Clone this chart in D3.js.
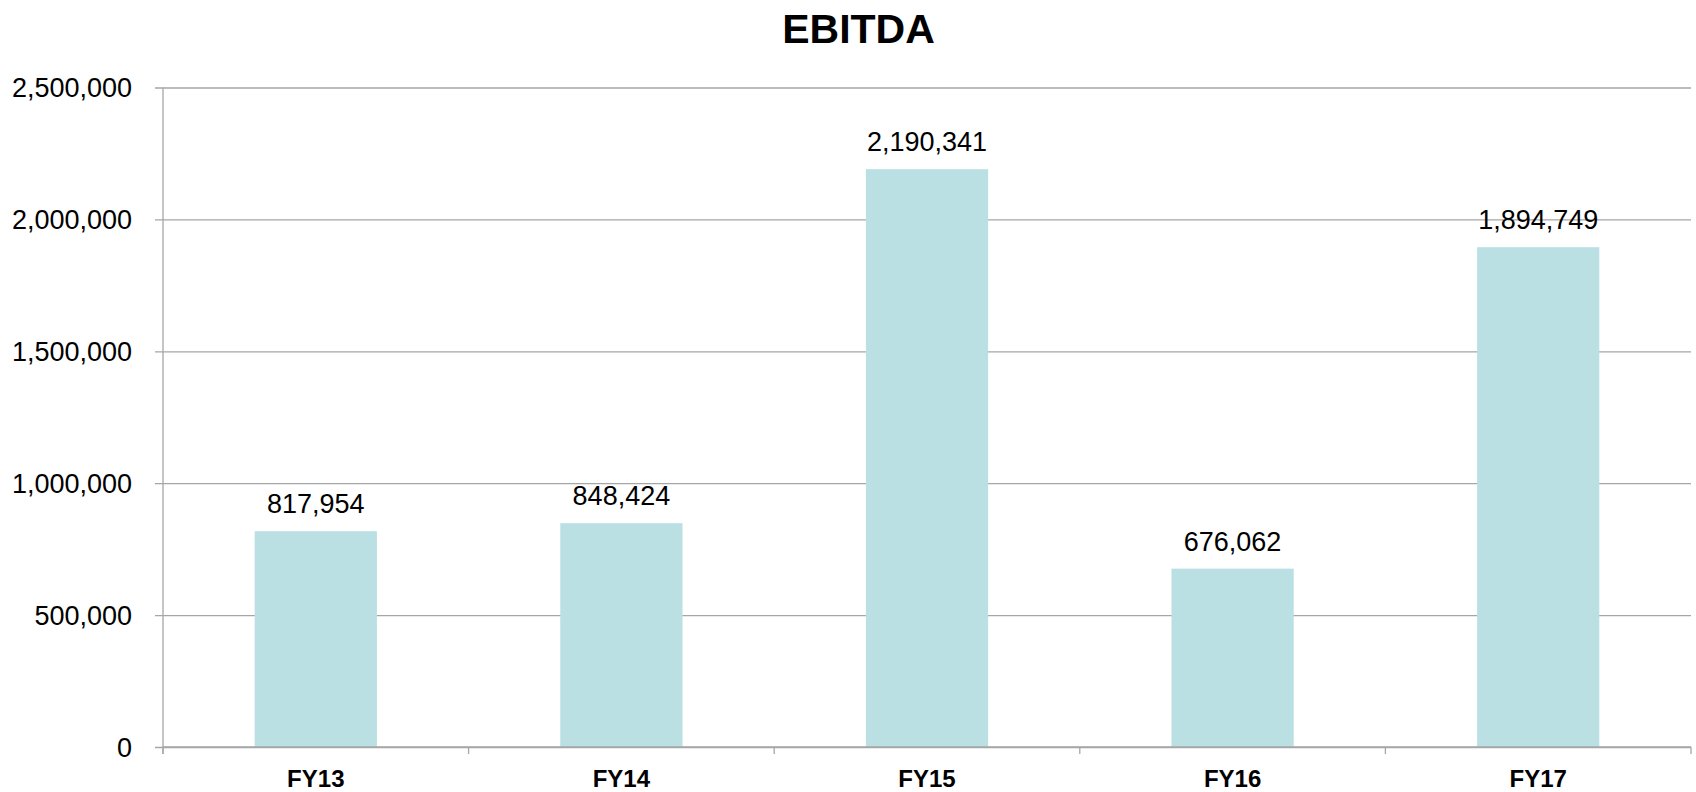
<!DOCTYPE html>
<html>
<head>
<meta charset="utf-8">
<script src="https://cdn.jsdelivr.net/npm/d3@7/dist/d3.min.js"></script>
<style>
  html, body { margin: 0; padding: 0; background: #fff; }
  svg { display: block; }
</style>
</head>
<body>
<svg id="chart" width="1696" height="792"></svg>
<script>
const categories = ["FY13", "FY14", "FY15", "FY16", "FY17"];
const ebitda = [817954, 848424, 2190341, 676062, 1894749];
const yTicks = [0, 500000, 1000000, 1500000, 2000000, 2500000];
const title = "EBITDA";

const svg = d3.select("#chart");
const margin = { left: 163, right: 1696 - 1691, top: 87.5, bottom: 792 - 747 };
const W = 1696, H = 792;

const x = d3.scaleBand()
  .domain(categories)
  .range([margin.left, W - margin.right])
  .paddingInner(0.6)
  .paddingOuter(0.3);

const y = d3.scaleLinear()
  .domain([0, 2500000])
  .range([H - margin.bottom, margin.top]);

const fmt = d3.format(",");
const font = "'Liberation Sans', Arial, sans-serif";

// gridlines + y axis labels
const yAxis = d3.axisLeft(y)
  .tickValues(yTicks)
  .tickFormat(fmt)
  .tickSize(-(W - margin.right - margin.left + 8))
  .tickPadding(24);

const gy = svg.append("g")
  .attr("transform", `translate(${margin.left - 8},0)`)
  .call(yAxis);
gy.select(".domain").remove();
gy.selectAll(".tick line")
  .attr("stroke", "#a6a6a6")
  .attr("stroke-width", 1.3)
  .attr("x1", 0)
  .attr("x2", W - margin.right - margin.left + 8);
gy.selectAll(".tick text")
  .attr("x", -23)
  .attr("dy", "0.34em")
  .attr("fill", "#000")
  .style("font-family", font)
  .style("font-size", "27px");

// vertical axis line
svg.append("line")
  .attr("x1", margin.left).attr("x2", margin.left)
  .attr("y1", y(2500000)).attr("y2", y(0) + 7)
  .attr("stroke", "#a6a6a6").attr("stroke-width", 1.3);

// bars
svg.append("g").selectAll("rect")
  .data(categories)
  .join("rect")
  .attr("x", d => x(d))
  .attr("width", x.bandwidth())
  .attr("y", (d, i) => y(ebitda[i]))
  .attr("height", (d, i) => y(0) - y(ebitda[i]))
  .attr("fill", "#bae0e3");

// x axis baseline + category boundary ticks
svg.append("line")
  .attr("x1", margin.left).attr("x2", W - margin.right)
  .attr("y1", y(0)).attr("y2", y(0))
  .attr("stroke", "#a6a6a6").attr("stroke-width", 1.3);

const step = x.step();
const boundaries = d3.range(categories.length + 1).map(i => margin.left + i * step);
svg.append("g").selectAll("line")
  .data(boundaries)
  .join("line")
  .attr("x1", d => d).attr("x2", d => d)
  .attr("y1", y(0)).attr("y2", y(0) + 7)
  .attr("stroke", "#a6a6a6").attr("stroke-width", 1.3);

// category labels
svg.append("g").selectAll("text")
  .data(categories)
  .join("text")
  .attr("x", d => x(d) + x.bandwidth() / 2)
  .attr("y", 787)
  .attr("text-anchor", "middle")
  .style("font-family", font)
  .style("font-size", "24px")
  .style("font-weight", "bold")
  .attr("fill", "#000")
  .text(d => d);

// data labels
svg.append("g").selectAll("text")
  .data(categories)
  .join("text")
  .attr("x", d => x(d) + x.bandwidth() / 2)
  .attr("y", (d, i) => y(ebitda[i]) - 18)
  .attr("text-anchor", "middle")
  .style("font-family", font)
  .style("font-size", "27px")
  .attr("fill", "#000")
  .text((d, i) => fmt(ebitda[i]));

// title
svg.append("text")
  .attr("x", 858.5)
  .attr("y", 42.5)
  .attr("text-anchor", "middle")
  .style("font-family", font)
  .style("font-size", "41px")
  .style("font-weight", "bold")
  .attr("fill", "#000")
  .text(title);
</script>
</body>
</html>
